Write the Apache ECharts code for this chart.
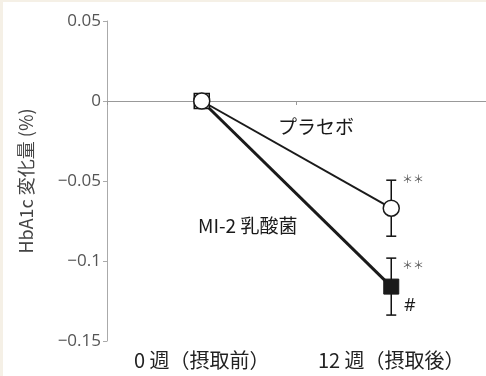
<!DOCTYPE html>
<html><head><meta charset="utf-8">
<script src="https://cdn.jsdelivr.net/npm/echarts@6/dist/echarts.min.js"></script>
<style>html,body{margin:0;padding:0;background:#f5f0e6;}#c{position:absolute;left:3px;top:2px;width:483px;height:374px;background:#fff;}</style>
</head><body><div id="c"></div>
<script>
const categories = ['0 週（摂取前）', '12 週（摂取後）'];
const placebo = [0, -0.067];
const placeboErr = [null, 0.0175];
const mi2 = [0, -0.116];
const mi2Err = [null, 0.0178];
const yTicks = [0.05, 0, -0.05, -0.1, -0.15];
const seriesNames = ['プラセボ', 'MI-2 乳酸菌'];

const chart = echarts.init(document.getElementById('c'), null, {renderer: 'canvas'});
const FONT = '"Noto Sans CJK JP", "Noto Sans", sans-serif';
const NUMFONT = '"Open Sans", "Noto Sans", sans-serif';
function errData(vals, errs) {
  const out = [];
  vals.forEach((v, i) => { if (errs[i] != null) out.push([i, v - errs[i], v + errs[i]]); });
  return out;
}
function errRender(params, api) {
  const x = api.value(0);
  const lo = api.coord([x, api.value(1)]);
  const hi = api.coord([x, api.value(2)]);
  const w = 5;
  const st = {stroke: '#111', lineWidth: 1.5, fill: null};
  return {type: 'group', children: [
    {type: 'line', shape: {x1: lo[0], y1: lo[1], x2: hi[0], y2: hi[1]}, style: st},
    {type: 'line', shape: {x1: lo[0]-w, y1: lo[1], x2: lo[0]+w, y2: lo[1]}, style: st},
    {type: 'line', shape: {x1: hi[0]-w, y1: hi[1], x2: hi[0]+w, y2: hi[1]}, style: st}
  ]};
}
function fmt(v) {
  const r = Math.round(v * 100) / 100;
  if (r === 0) return '0';
  return (r < 0 ? '\u2212' : '') + String(Math.abs(r));
}
chart.setOption({
  animation: false,
  grid: {left: 104, right: 0, top: 19, bottom: 35},
  xAxis: {
    type: 'category', data: categories, boundaryGap: true,
    axisLine: {lineStyle: {color: '#999', width: 1}},
    axisTick: {show: true, length: 4, lineStyle: {color: '#999'}},
    axisLabel: {color: '#222', fontSize: 20, fontFamily: FONT, margin: 9, interval: 0, hideOverlap: false}
  },
  yAxis: {
    type: 'value', min: -0.15, max: 0.05, interval: 0.05,
    name: 'HbA1c 変化量 (%)', nameLocation: 'middle', nameGap: 72,
    nameTextStyle: {color: '#444', fontSize: 18, fontFamily: FONT},
    axisLine: {show: true, lineStyle: {color: '#aaa', width: 1}},
    axisTick: {show: true, length: 4, lineStyle: {color: '#aaa'}},
    splitLine: {show: false},
    axisLabel: {color: '#555', fontSize: 17, fontFamily: NUMFONT, margin: 6, formatter: fmt}
  },
  series: [
    {type: 'custom', renderItem: errRender, data: errData(mi2, mi2Err), z: 1, silent: true},
    {type: 'custom', renderItem: errRender, data: errData(placebo, placeboErr), z: 1, silent: true},
    {name: seriesNames[1], type: 'line', data: [
        {value: mi2[0], itemStyle: {color: '#fff', borderColor: '#111', borderWidth: 1.5}},
        {value: mi2[1], itemStyle: {color: '#1a1a1a', borderColor: '#1a1a1a', borderWidth: 1}}],
      symbol: 'rect', symbolSize: 15, showAllSymbol: true,
      lineStyle: {color: '#1a1a1a', width: 3}, z: 2},
    {name: seriesNames[0], type: 'line', data: placebo,
      symbol: 'circle', symbolSize: 16, showAllSymbol: true,
      itemStyle: {color: '#fff', borderColor: '#1a1a1a', borderWidth: 1.5},
      lineStyle: {color: '#1a1a1a', width: 2}, z: 3}
  ],
  graphic: [
    {type: 'text', left: 275, top: 115, style: {text: seriesNames[0], fontSize: 19, fontFamily: FONT, fill: '#1a1a1a'}},
    {type: 'text', left: 195, top: 214, style: {text: seriesNames[1], fontSize: 19, fontFamily: FONT, fill: '#1a1a1a'}},
    {type: 'text', left: 399, top: 171, style: {text: '＊＊', fontSize: 11, fontFamily: FONT, fill: '#555'}},
    {type: 'text', left: 399, top: 257, style: {text: '＊＊', fontSize: 11, fontFamily: FONT, fill: '#555'}},
    {type: 'text', left: 401, top: 295, style: {text: '#', fontSize: 18, fontFamily: NUMFONT, fill: '#1a1a1a'}}
  ]
});
</script></body></html>
